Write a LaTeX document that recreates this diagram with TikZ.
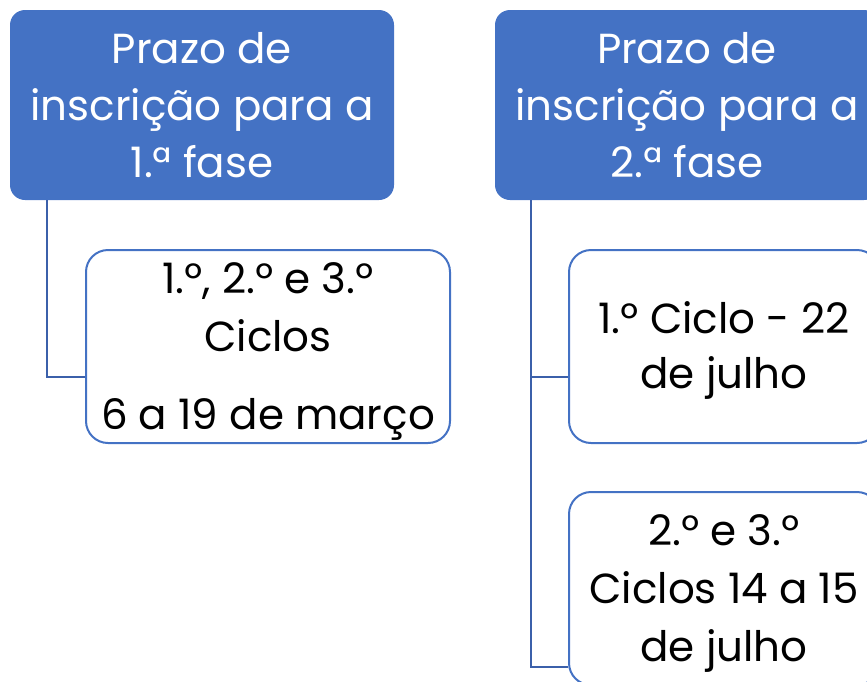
\documentclass[tikz,border=0pt]{standalone}
\usepackage{fontspec}
\setmainfont{Poppins}
\newcommand{\topgap}{\rule{0pt}{40pt}}
\begin{document}
\begin{tikzpicture}[x=1pt,y=-1pt,
    fase/.style={fill=fasebg,rounded corners=15pt,minimum width=384pt,
      minimum height=190pt,inner sep=0pt,text=white,align=center,
      font=\fontsize{42}{57}\selectfont},
    ciclo/.style={draw=fasebg,line width=2pt,rounded corners=22pt,
      minimum height=193pt,inner sep=0pt,align=center,
      font=\fontsize{42}{58}\selectfont},
    ligacao/.style={draw=linha,line width=2.5pt}]

  \definecolor{fasebg}{RGB}{68,114,196} % blue
  \definecolor{linha}{RGB}{59,96,170} % dark blue

  % Page frame
  \useasboundingbox (0,0) rectangle (867,681);
  \clip (0,0) rectangle (867,681);

  % Phase headers
  \node[fase] (fase1) at (202,105) {Prazo de\\inscrição para a\\1.ª fase};
  \node[fase] (fase2) at (687,105) {Prazo de\\inscrição para a\\2.ª fase};

  % Cycle boxes
  \node[ciclo,minimum width=364pt] (ciclo1) at (268,346.5)
      {\topgap1.º, 2.º e 3.º\\Ciclos\\[20pt]6 a 19 de março};
  \node[ciclo,minimum width=310pt] (ciclo2) at (724,346.5)
      {\topgap1.º Ciclo - 22\\[-3pt]de julho};
  \node[ciclo,minimum width=310pt] (ciclo3) at (724,588.5)
      {\topgap2.º e 3.º\\Ciclos 14 a 15\\de julho};

  % Connectors
  \coordinate (t1) at ([xshift=37pt]fase1.south west);
  \coordinate (t2) at ([xshift=36pt]fase2.south west);
  \draw[ligacao] (t1) |- ([yshift=-30.5pt]ciclo1.west);
  \draw[ligacao] (t2) |- ([yshift=-30.5pt]ciclo2.west);
  \draw[ligacao] (t2) |- ([yshift=-78.5pt]ciclo3.west);

\end{tikzpicture}
\end{document}
